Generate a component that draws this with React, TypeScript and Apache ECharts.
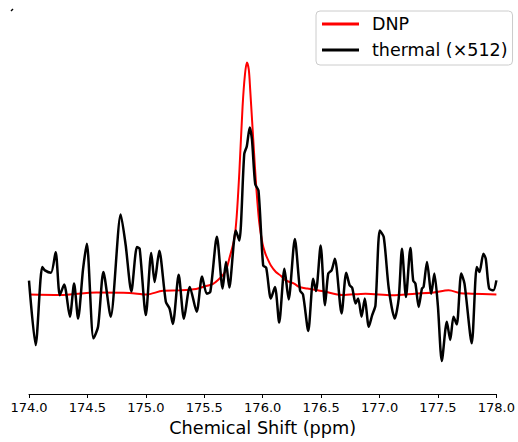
import React, { useEffect, useRef } from "react";
import * as echarts from "echarts";

// Chemical shift (ppm) and intensity (DNP peak normalised to ~1)
const thermalPpm = [
  174.0, 174.057, 174.113, 174.136, 174.188, 174.228, 174.264, 174.301, 174.35, 174.386,
  174.42, 174.463, 174.495, 174.552, 174.591, 174.637, 174.699, 174.785, 174.827, 174.876,
  174.924, 174.947, 175.0, 175.046, 175.075, 175.115, 175.171, 175.203, 175.231, 175.281,
  175.326, 175.376, 175.435, 175.481, 175.521, 175.552, 175.608, 175.657, 175.686, 175.714,
  175.77, 175.8, 175.842, 175.864, 175.889, 175.908, 175.936, 175.964, 176.004, 176.03,
  176.07, 176.105, 176.141, 176.186, 176.222, 176.275, 176.32, 176.345, 176.39, 176.432,
  176.456, 176.496, 176.533, 176.561, 176.59, 176.618, 176.675, 176.715, 176.744, 176.766,
  176.795, 176.817, 176.846, 176.874, 176.908, 176.937, 176.965, 177.002, 177.036, 177.079,
  177.13, 177.164, 177.192, 177.226, 177.264, 177.288, 177.307, 177.335, 177.363, 177.377,
  177.406, 177.443, 177.469, 177.499, 177.533, 177.576, 177.605, 177.633, 177.661, 177.699,
  177.727, 177.789, 177.832, 177.855, 177.889, 177.909, 177.938, 177.974, 178.0,
];
const thermalIntensity = [
  0.06, -0.217, 0.118, 0.104, 0.094, 0.182, -0.003, 0.043, -0.095, 0.047,
  -0.103, 0.111, 0.218, -0.188, -0.138, 0.097, -0.095, 0.344, 0.214, 0.013,
  0.204, 0.197, -0.088, 0.179, 0.054, 0.188, -0.031, -0.06, -0.126, 0.085,
  -0.104, 0.033, -0.074, 0.078, 0.004, 0.012, 0.248, 0.026, 0.141, 0.03,
  0.275, 0.232, 0.603, 0.637, 0.717, 0.667, 0.474, 0.446, 0.125, 0.115,
  -0.017, 0.033, -0.12, 0.111, -0.021, 0.239, 0.017, 0.0, -0.156, 0.068,
  0.015, 0.211, -0.046, 0.09, 0.104, 0.154, -0.081, 0.094, 0.04, 0.029,
  -0.038, -0.017, -0.095, -0.017, -0.138, -0.088, -0.046, 0.275, 0.247, 0.026,
  -0.103, -0.017, 0.197, -0.01, 0.2, 0.06, 0.047, -0.053, 0.026, 0.033,
  0.14, 0.004, 0.09, -0.046, -0.285, -0.117, -0.195, -0.095, -0.128, 0.09,
  0.047, -0.209, 0.118, 0.097, 0.175, 0.154, 0.026, 0.018, 0.061,
];

const dnpPpm = [
  174.0, 174.264, 174.577, 174.861, 175.004, 175.145, 175.288, 175.43, 175.516, 175.572,
  175.629, 175.657, 175.686, 175.714, 175.757, 175.777, 175.8, 175.828, 175.848, 175.865,
  175.881, 175.893, 175.919, 175.942, 175.97, 175.998, 176.02, 176.041, 176.07, 176.113,
  176.155, 176.198, 176.269, 176.311, 176.382, 176.519, 176.681, 176.88, 177.107, 177.307,
  177.463, 177.591, 177.693, 177.789, 178.0,
];
const dnpIntensity = [
  0.0, -0.002, 0.009, 0.007, 0.0, 0.016, 0.018, 0.024, 0.037, 0.045,
  0.068, 0.082, 0.104, 0.154, 0.239, 0.333, 0.524, 0.809, 0.944, 0.997,
  0.966, 0.88, 0.667, 0.482, 0.311, 0.22, 0.18, 0.154, 0.125, 0.097,
  0.081, 0.061, 0.047, 0.033, 0.026, 0.014, -0.002, 0.004, -0.003, 0.004,
  0.009, 0.018, 0.006, 0.004, 0.0,
];

const seriesNames = ["DNP", "thermal (\u00d7512)"];
const xLabel = "Chemical Shift (ppm)";

export default function App() {
  const ref = useRef<HTMLDivElement>(null);
  useEffect(() => {
    document.body.style.margin = "0";
    if (!ref.current) return;
    const chart = echarts.init(ref.current, null, { renderer: "svg" });
    const font = "DejaVu Sans";
    chart.setOption({
      animation: false,
      backgroundColor: "#ffffff",
      textStyle: { fontFamily: font },
      grid: { left: 29, right: 20, top: 10, bottom: 46, containLabel: false },
      legend: {
        orient: "vertical",
        left: 316,
        top: 11,
        padding: [3, 5, 5, 6],
        itemGap: 6,
        itemWidth: 37,
        itemHeight: 3,
        icon: "rect",
        borderColor: "#cccccc",
        borderWidth: 1,
        borderRadius: 4,
        backgroundColor: "#ffffff",
        data: seriesNames,
        textStyle: {
          fontFamily: font,
          fontSize: 17.5,
          color: "#000",
          lineHeight: 20,
          padding: [0, 0, 0, 8],
        },
      },
      xAxis: {
        type: "value",
        min: 174,
        max: 178,
        interval: 0.5,
        name: xLabel,
        nameLocation: "middle",
        nameGap: 25,
        nameTextStyle: { fontFamily: font, fontSize: 17.7, color: "#000" },
        axisLine: { show: true, onZero: false, lineStyle: { color: "#000", width: 1 } },
        axisTick: { show: true, length: 4, lineStyle: { color: "#000", width: 1 } },
        axisLabel: {
          fontFamily: font,
          fontSize: 13,
          color: "#000",
          margin: 7,
          formatter: (v: number) => v.toFixed(1),
        },
        splitLine: { show: false },
      },
      yAxis: {
        type: "value",
        show: false,
        min: -0.427,
        max: 1.222,
        splitLine: { show: false },
      },
      series: [
        {
          name: seriesNames[0],
          type: "line",
          data: dnpPpm.map((x, i) => [x, dnpIntensity[i]]),
          showSymbol: false,
          smooth: 0.3,
          lineStyle: { color: "#ff0000", width: 2 },
          itemStyle: { color: "#ff0000" },
        },
        {
          name: seriesNames[1],
          type: "line",
          data: thermalPpm.map((x, i) => [x, thermalIntensity[i]]),
          showSymbol: false,
          smooth: 0.25,
          lineStyle: { color: "#000000", width: 2.5 },
          itemStyle: { color: "#000000" },
        },
      ],
      graphic: [
        {
          type: "line",
          shape: { x1: 11, y1: 11, x2: 13, y2: 9 },
          style: { stroke: "#000", lineWidth: 1.5 },
        },
      ],
    });
    return () => chart.dispose();
  }, []);
  return (
    <div
      ref={ref}
      style={{ position: "absolute", left: 0, top: 0, width: 518, height: 442 }}
    />
  );
}
